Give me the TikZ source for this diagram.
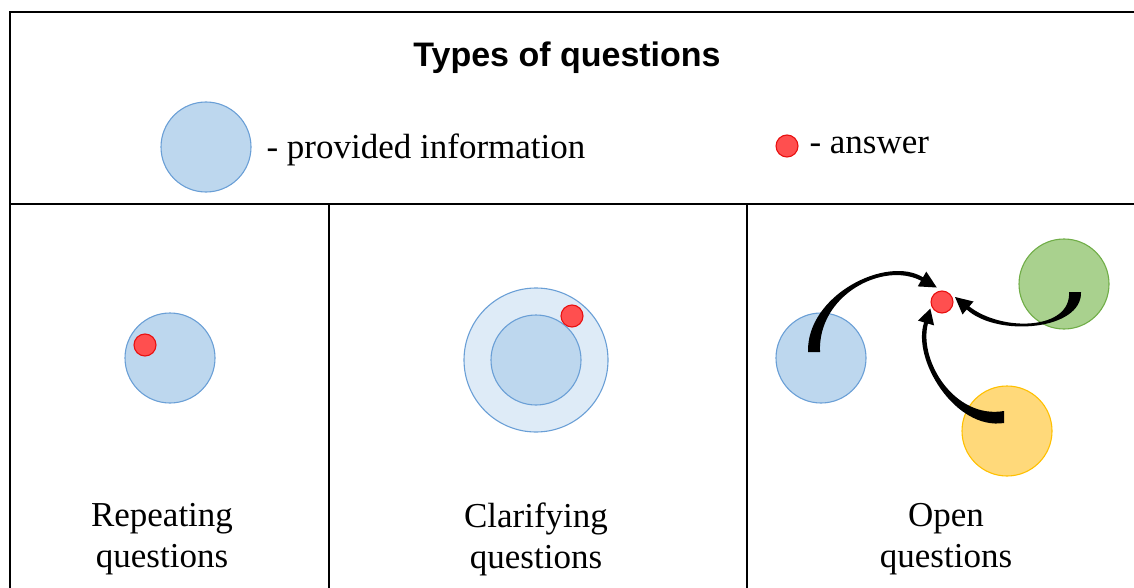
\documentclass[tikz,border=0pt]{standalone}
\usepackage{fontspec}
\setmainfont{Liberation Serif}
\newfontfamily\headfont{Liberation Sans}
\definecolor{infofill}{HTML}{BDD7EE}
\definecolor{infoline}{HTML}{6A9FD6}
\definecolor{outerfill}{HTML}{DEEBF7}
\definecolor{ansfill}{HTML}{FF4F4F}
\definecolor{ansline}{HTML}{E81010}
\definecolor{greenfill}{HTML}{A9D18E}
\definecolor{greenline}{HTML}{70AD47}
\definecolor{orangefill}{HTML}{FFD97A}
\definecolor{orangeline}{HTML}{FFC000}
\begin{document}
\begin{tikzpicture}[x=1pt,y=-1pt,
    frame/.style={line width=1.5pt,draw=black},
    info/.style={
      % The shape:
      circle,inner sep=0pt,minimum size=90pt,
      % The rest
      line width=1.1pt,draw=infoline,fill=infofill},
    answer/.style={circle,inner sep=0pt,minimum size=22pt,
      line width=1.1pt,draw=ansline,fill=ansfill},
    qtext/.style={font=\fontsize{35}{41}\selectfont,align=center},
    taper/.style={fill=black}]
  \useasboundingbox (0,0) rectangle (1134,588);
  % frame
  \draw[frame] (10,588) -- (10,12) -- (1134,12);
  \draw[frame] (10,204) -- (1134,204);
  \draw[frame] (329,204) -- (329,588);
  \draw[frame] (747,204) -- (747,588);
  % heading and legend
  \node(title) at (567,58) {\headfont\bfseries\fontsize{34}{40}\selectfont Types of questions};
  \node(leginfo)[info] at (206,147) {};
  \node(leginfotxt)[qtext, anchor=west] at (263,150) {- provided information};
  \node(legans)[answer] at (787,146) {};
  \node(leganstxt)[qtext, anchor=west] at (806,145) {- answer};
  % repeating
  \node(rep)[info] at (170,358) {};
  \node(repans)[answer] at (145,345) {};
  \node(reptxt)[qtext] at (162,539) {Repeating\\questions};
  % clarifying
  \node(clarout)[info, minimum size=144pt, fill=outerfill] at (536,360) {};
  \node(clarin)[info] at (536,360) {};
  \node(clarans)[answer] at (572,316) {};
  \node(clartxt)[qtext] at (536,539) {Clarifying\\questions};
  % open
  \node(openblue)[info] at (821,358) {};
  \node(opengreen)[info, draw=greenline, fill=greenfill] at (1064,284) {};
  \node(openorange)[info, draw=orangeline, fill=orangefill] at (1007,431) {};
  \node(openans)[answer] at (942,302) {};
  \node(opentxt)[qtext] at (946,539) {Open\\questions};
  % tapered arrows into the answer
  \coordinate(bluetail) at (814,352);
  \fill[taper] (820,352) .. controls (817.5,295) and (883.25,261) .. (921,280.7)
    -- (917.75,286.4) -- (936.8,287.5) -- (926.25,271.6) -- (923,277.3)
    .. controls (886.75,254.95) and (806.5,295) .. (808,352) -- cycle;
  \coordinate(greentail) at (1075,292);
  \fill[taper] (1069,292) .. controls (1071.5,330) and (1002.3,332.3) .. (969.3,306.5)
    -- (973.5,301.5) -- (955,297) -- (962.5,314.5) -- (966.7,309.5)
    .. controls (997.7,337.7) and (1082.5,330) .. (1081,292) -- cycle;
  \coordinate(orangetail) at (1004,417);
  \fill[taper] (1004,411) .. controls (955,419.5) and (918.4,361) .. (927.9,323.6)
    -- (934.1,325.4) -- (930.3,308.6) -- (917.9,320.6) -- (924.1,322.4)
    .. controls (911.6,359) and (955,430.5) .. (1004,423) -- cycle;
\end{tikzpicture}
\end{document}
